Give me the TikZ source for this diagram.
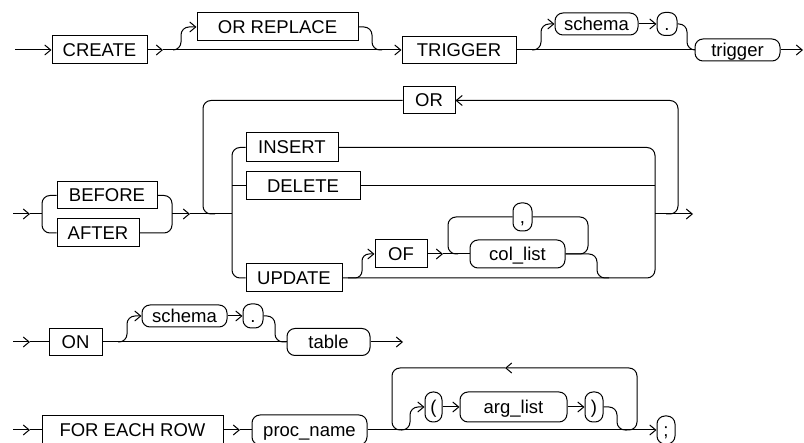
\documentclass[tikz,border=0pt]{standalone}
\usepackage{fontspec}
\setmainfont{Liberation Sans}
\usetikzlibrary{arrows.meta}
\tikzset{
  arr/.style={-{Straight Barb[length=6pt,width=10pt]}},
  kw/.style={draw, line width=1pt, inner sep=0pt, font=\fontsize{18.5}{20}\selectfont, text height=13pt, text depth=0pt},
  pill/.style={kw, rounded corners=8pt},
  rc/.style={rounded corners=8pt}
}
\begin{document}
\begin{tikzpicture}[x=1pt,y=-1pt,line width=1pt]
\useasboundingbox (0,0) rectangle (804,443);

% ---------- Row 1
\coordinate (s1) at (15,50);
\node[kw,minimum width=95pt,minimum height=28pt] (create) at (99.5,50) {CREATE};
\coordinate (a1) at (163,50);
\node[kw,minimum width=161pt,minimum height=28pt] (orr) at (277.5,27) {OR REPLACE};
\node[kw,minimum width=114pt,minimum height=27pt] (trig) at (459,50) {TRIGGER};
\node[pill,minimum width=83pt,minimum height=22pt] (sch1) at (596.5,24) {schema};
\node[pill,minimum width=20pt,minimum height=23pt] (dot1) at (667,24) {.};
\node[pill,minimum width=85pt,minimum height=22pt] (trg) at (737.5,50) {trigger};
\coordinate (e1) at (803,50);

\draw[arr] (s1) -- (create.west);
\draw[arr] (create.east) -- (a1);
\draw[arr] (a1) -- (trig.west);
\draw[arr,rc] (173,50) -- (181,50) -- (181,27) -- (orr.west);
\draw[rc] (orr.east) -- (372,27) -- (372,50) -- (382,50);
\draw (trig.east) -- (trg.west);
\draw[arr,rc] (532,50) -- (541,50) -- (541,24) -- (sch1.west);
\draw[arr] (sch1.east) -- (dot1.west);
\draw[rc] (dot1.east) -- (687,24) -- (687,50) -- (trg.west);
\draw[arr] (trg.east) -- (e1);

% ---------- Row 2
\coordinate (s2) at (13,214);
\coordinate (a2) at (30,214);
\node[kw,minimum width=100pt,minimum height=27pt] (before) at (107,195.5) {BEFORE};
\node[kw,minimum width=82pt,minimum height=28pt] (after) at (98,233) {AFTER};
\draw[arr] (s2) -- (a2);
\draw (a2) -- (42,214);
\draw[rc] (before.west) -- (42,195.5) -- (42,233) -- (after.west);
\draw[rc] (before.east) -- (172,195.5) -- (172,233) -- (after.east);
\coordinate (a3) at (190,214);
\draw[arr] (172,214) -- (a3);
\draw (a3) -- (232,214);

\node[kw,minimum width=52pt,minimum height=27pt] (or) at (429,100.5) {OR};
\draw[rc] (or.west) -- (203,100.5) -- (203,214) -- (215,214);
\draw[arr,rc] (666,214) -- (678,214) -- (678,100.5) -- (or.east);

\node[kw,minimum width=92pt,minimum height=29pt] (ins) at (292,147.5) {INSERT};
\node[kw,minimum width=114pt,minimum height=28pt] (del) at (303,186) {DELETE};
\node[kw,minimum width=96pt,minimum height=28pt] (upd) at (294,278) {UPDATE};
\draw[rc] (ins.west) -- (232,147.5) -- (232,278) -- (upd.west);
\draw (232,186) -- (del.west);
\draw[rc] (ins.east) -- (655,147.5) -- (655,278) -- (upd.east);
\draw (del.east) -- (655,186);
\coordinate (e2) at (693,214);
\draw[arr] (655,214) -- (e2);

\node[kw,minimum width=52pt,minimum height=28pt] (of) at (401,254) {OF};
\draw[arr,rounded corners=7pt] (348,278) -- (362,278) -- (362,254) -- (of.west);
\coordinate (a4) at (443,254);
\draw[arr] (of.east) -- (a4);
\node[pill,minimum width=95pt,minimum height=28pt] (col) at (517.5,254) {col\_list};
\node[pill,minimum width=19pt,minimum height=28pt] (comma) at (522.5,217) {,};
\draw (a4) -- (col.west);
\draw[rc] (col.east) -- (588,254) -- (588,217) -- (comma.east);
\draw[rc] (comma.west) -- (448,217) -- (448,254) -- (458,254);
\draw[rc] (col.east) -- (597,254) -- (597,278) -- (609,278);

% ---------- Row 3
\coordinate (s3) at (13,342);
\coordinate (a5) at (30,342);
\node[kw,minimum width=53pt,minimum height=27pt] (on) at (75.5,342) {ON};
\draw[arr] (s3) -- (a5);
\draw (a5) -- (on.west);
\node[pill,minimum width=85pt,minimum height=22pt] (sch2) at (184.5,316) {schema};
\node[pill,minimum width=20pt,minimum height=24pt] (dot2) at (253,316) {.};
\node[pill,minimum width=83pt,minimum height=27pt] (tab) at (328.5,342) {table};
\draw (on.east) -- (tab.west);
\draw[arr,rc] (118,342) -- (127,342) -- (127,316) -- (sch2.west);
\draw[arr] (sch2.east) -- (dot2.west);
\draw[rc] (dot2.east) -- (275,316) -- (275,342) -- (tab.west);
\coordinate (e3) at (403,342);
\draw[arr] (tab.east) -- (e3);

% ---------- Row 4
\coordinate (s4) at (13,430);
\coordinate (a6) at (30,430);
\node[kw,minimum width=181pt,minimum height=28pt] (fer) at (132.5,430) {FOR EACH ROW};
\coordinate (a7) at (240,430);
\node[pill,minimum width=115pt,minimum height=30pt] (proc) at (309.5,430) {proc\_name};
\node[pill,minimum width=18pt,minimum height=28pt] (semi) at (666,430) {;};
\draw[arr] (s4) -- (a6);
\draw (a6) -- (fer.west);
\draw[arr] (fer.east) -- (a7);
\draw (a7) -- (proc.west);
\draw[arr] (proc.east) -- (semi.west);

\node[pill,minimum width=17pt,minimum height=30pt] (lp) at (433.5,407) {(};
\node[pill,minimum width=107pt,minimum height=30pt] (arg) at (513.5,407) {arg\_list};
\node[pill,minimum width=18pt,minimum height=30pt] (rp) at (594,407) {)};
\draw[arr,rc] (401,430) -- (410,430) -- (410,407) -- (lp.west);
\draw[arr] (lp.east) -- (arg.west);
\draw[arr] (arg.east) -- (rp.west);
\draw[rc] (rp.east) -- (617,407) -- (617,430) -- (627,430);
\coordinate (lt) at (505,368);
\draw[arr,rc] (625,430) -- (637,430) -- (637,368) -- (lt);
\draw[rc] (lt) -- (392,368) -- (392,430) -- (402,430);
\end{tikzpicture}
\end{document}
